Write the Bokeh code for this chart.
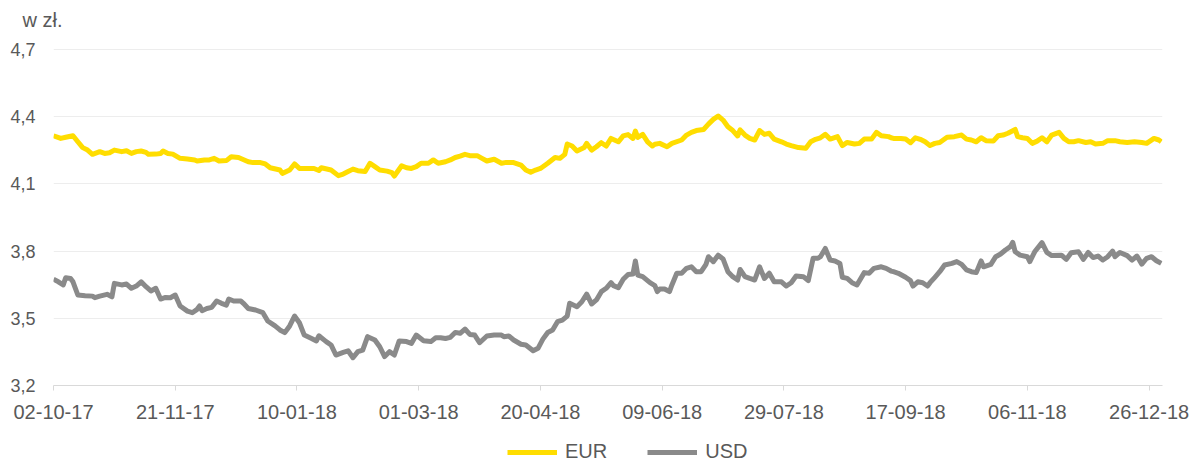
import pandas as pd
from bokeh.plotting import figure
from bokeh.layouts import column
from bokeh.models import (Range1d, FixedTicker, DatetimeTickFormatter, Legend,
                          LegendItem)
from bokeh.embed import file_html
from bokeh.resources import INLINE

START = "2017-10-02"
END = "2018-12-31 12:00"

eur_day = [0, 3, 5, 8, 10, 12, 14, 16, 19, 21, 23, 25, 28, 30, 32, 34, 36, 38, 39, 42, 44, 45, 47, 49,
           52, 55, 58, 59, 62, 64, 66, 68, 71, 73, 76, 80, 82, 85, 87, 89, 93, 94, 97, 99, 101, 104,
           107, 109, 110, 114,
           117, 119, 121, 123, 125, 128, 130, 132, 134, 137, 139, 140, 143, 145, 147, 149, 151, 154,
           156, 158, 161, 163, 165, 167, 169, 171, 174, 176, 178, 181, 184, 186, 189, 192, 194, 196,
           198, 200, 203, 206, 208, 210, 211, 213, 215, 218, 219, 221, 223, 225, 227, 229,
           232, 234, 236, 238, 239, 240, 242, 244, 246, 247, 249, 252, 254, 258, 260, 262, 264, 267,
           269, 271, 273, 275, 277, 279, 281, 282, 284, 286, 288, 290, 292, 294, 296, 299, 301, 303,
           306, 309, 311, 313, 315, 317, 319, 322, 324, 326, 329, 331, 333, 336, 338, 340, 343, 344,
           345, 348, 350, 352, 354, 356, 358, 360, 362, 364, 367, 370, 373, 375, 377, 379, 381, 383,
           386, 388, 390, 392, 395, 396, 398, 400, 402, 404, 406, 408, 410, 413, 415, 417, 419, 421,
           424, 426, 428, 431, 433, 436, 438, 441, 444, 447, 449, 452, 454, 455]
eur_val = [4.315, 4.303, 4.308, 4.315, 4.288, 4.262, 4.251, 4.232, 4.244, 4.236, 4.239, 4.251, 4.244,
           4.248, 4.236, 4.244, 4.247, 4.241, 4.232, 4.233, 4.236, 4.247, 4.236, 4.233,
           4.214, 4.211, 4.207, 4.202, 4.207, 4.207, 4.214, 4.202, 4.204, 4.221, 4.218, 4.199, 4.195,
           4.195, 4.189, 4.172, 4.162, 4.147, 4.162, 4.189, 4.169, 4.169, 4.169, 4.160, 4.172, 4.162,
           4.137, 4.144, 4.155, 4.166, 4.159, 4.155, 4.192, 4.177, 4.162, 4.157, 4.150, 4.135, 4.181,
           4.172, 4.169, 4.177, 4.192, 4.192, 4.207, 4.192, 4.199, 4.207, 4.218, 4.224, 4.232, 4.226,
           4.226, 4.214, 4.202, 4.210, 4.192, 4.196, 4.195, 4.184, 4.162, 4.152, 4.162, 4.169, 4.192,
           4.218, 4.214, 4.232, 4.278, 4.269, 4.247, 4.263, 4.281, 4.251, 4.266, 4.284, 4.269, 4.303,
           4.288, 4.314, 4.320, 4.303, 4.336, 4.308, 4.321, 4.288, 4.269, 4.277, 4.281, 4.266, 4.281,
           4.296, 4.318, 4.330, 4.338, 4.343, 4.367, 4.388, 4.403, 4.385, 4.355, 4.338, 4.314, 4.341,
           4.318, 4.303, 4.296, 4.338, 4.321, 4.326, 4.300, 4.288, 4.278, 4.271, 4.262, 4.259, 4.288,
           4.299, 4.306, 4.321, 4.300, 4.311, 4.271, 4.285, 4.278, 4.281, 4.300, 4.300, 4.330, 4.315,
           4.311, 4.306,
           4.303, 4.303, 4.300, 4.284, 4.306, 4.299, 4.288, 4.271, 4.281, 4.285, 4.308, 4.311, 4.318,
           4.300, 4.296, 4.288, 4.306, 4.293, 4.291, 4.315, 4.318, 4.326, 4.343, 4.311, 4.306, 4.303,
           4.281, 4.291, 4.306, 4.288, 4.318, 4.330, 4.303, 4.288, 4.288, 4.293, 4.285, 4.288, 4.278,
           4.281, 4.293, 4.293, 4.288, 4.285, 4.288, 4.285, 4.281, 4.303, 4.296, 4.288]

usd_day = [0, 2, 4, 5, 7, 8, 10, 13, 16, 17, 19, 22, 24, 25, 28, 30, 32, 34, 36, 38, 40, 42, 44, 46,
           48, 50, 52, 55, 57, 59, 60, 61, 63, 65, 67, 69, 71, 72, 74, 77, 78, 80, 83, 86, 88, 91, 93,
           95, 97, 99, 101, 103, 106, 108, 109, 110, 112,
           114, 116, 119, 121, 123, 125, 127, 129, 132, 134, 136, 138, 140, 142, 145, 147, 149, 152,
           155, 157, 159, 161, 163, 165, 167, 169, 171, 173, 175, 178, 181, 184, 185, 187, 189, 192,
           194, 197, 199, 201, 203, 205, 207, 209, 211, 212, 215, 217, 219, 221, 223, 225, 227, 229,
           230, 232, 234, 236, 238, 239, 240, 242, 245, 247, 248, 249, 251, 253, 254, 256, 258, 260,
           262, 264, 266, 268, 269, 271, 273, 275, 277, 279, 281, 282, 284, 286, 288, 290, 292, 294,
           296, 299, 301, 303, 305, 308, 310, 312, 314, 315, 317, 319, 321, 323, 324, 326, 328, 330,
           333, 335, 337, 340, 342, 344,
           345, 347, 350, 352, 353, 355, 357, 359, 360, 362, 364, 366, 369, 371, 373, 375, 377, 379,
           381, 382, 385, 387, 389, 391, 393, 394, 395, 397, 400, 401, 403, 406, 408, 410, 414, 416,
           418, 421, 423, 425, 427, 429, 431, 433, 435, 436, 438, 441, 443, 445, 447, 449, 451, 453, 455]
usd_val = [3.674, 3.663, 3.649, 3.681, 3.678, 3.663, 3.604, 3.601, 3.599, 3.592, 3.599, 3.607, 3.596,
           3.656, 3.649, 3.653, 3.634, 3.644, 3.663, 3.641, 3.622, 3.634, 3.586, 3.593, 3.592, 3.604,
           3.555, 3.532, 3.525, 3.540, 3.555, 3.534, 3.544, 3.549, 3.577, 3.567, 3.559, 3.586, 3.577,
           3.577, 3.567, 3.544, 3.537, 3.525, 3.488, 3.466, 3.448, 3.436, 3.466, 3.510, 3.480, 3.425,
           3.410, 3.399, 3.422, 3.413, 3.396,
           3.381, 3.336, 3.348, 3.355, 3.324, 3.351, 3.358, 3.418, 3.403, 3.373, 3.329, 3.351, 3.336,
           3.399, 3.396, 3.388, 3.425, 3.400, 3.396, 3.413, 3.413, 3.410, 3.415, 3.437, 3.433, 3.452,
           3.428, 3.425, 3.391, 3.421, 3.425, 3.425, 3.418, 3.421, 3.403, 3.384, 3.381, 3.355, 3.366,
           3.407, 3.437, 3.448, 3.485, 3.492, 3.510, 3.567, 3.552, 3.574, 3.608, 3.564, 3.582, 3.619,
           3.634, 3.659,
           3.646, 3.637, 3.674, 3.696, 3.698, 3.756, 3.693, 3.686, 3.659, 3.646, 3.619, 3.631, 3.631,
           3.619, 3.649, 3.701, 3.701, 3.723, 3.730, 3.708, 3.708, 3.741, 3.775, 3.753, 3.782, 3.765,
           3.708, 3.686, 3.671, 3.718, 3.686, 3.678, 3.671, 3.730, 3.678, 3.701, 3.663, 3.663, 3.644,
           3.659, 3.689, 3.686, 3.668, 3.768, 3.768, 3.775, 3.812, 3.760, 3.756, 3.745, 3.683, 3.678,
           3.659, 3.649, 3.704, 3.701, 3.723, 3.730, 3.723, 3.711,
           3.708, 3.701, 3.683, 3.668, 3.644, 3.663, 3.659, 3.644, 3.659, 3.683, 3.708, 3.738, 3.745,
           3.753, 3.741, 3.716, 3.708, 3.704, 3.756, 3.730, 3.741, 3.775, 3.787, 3.805, 3.820, 3.839,
           3.797, 3.782, 3.775, 3.753, 3.797, 3.838, 3.794, 3.780, 3.782, 3.763, 3.793, 3.797, 3.763,
           3.794, 3.771, 3.778, 3.760, 3.775, 3.800, 3.775, 3.794, 3.780, 3.760, 3.778, 3.742, 3.768,
           3.775, 3.757, 3.745]

series_names = ["EUR", "USD"]
x_tick_labels = ["02-10-17", "21-11-17", "10-01-18", "01-03-18", "20-04-18",
                 "09-06-18", "29-07-18", "17-09-18", "06-11-18", "26-12-18"]
y_ticks = [3.2, 3.5, 3.8, 4.1, 4.4, 4.7]
y_tick_labels = ["3,2", "3,5", "3,8", "4,1", "4,4", "4,7"]
unit_label = "w zł."

FONT = "Liberation Sans"
TEXT_COLOR = "#595959"
EUR_COLOR = "#FFDD00"
USD_COLOR = "#8A8A8A"
LINE_W = 5

# vertical layout: 224 px per unit; frame top 13 px above the 4.7 gridline
PX_PER_UNIT = 336 / (y_ticks[-1] - y_ticks[0])
TOP_PAD_PX = 13
Y_MAX = y_ticks[-1] + TOP_PAD_PX / PX_PER_UNIT

start = pd.Timestamp(START)
eur_x = start + pd.to_timedelta(eur_day, unit="D")
usd_x = start + pd.to_timedelta(usd_day, unit="D")
x_ticks_ms = [pd.Timestamp(pd.to_datetime(s, format="%d-%m-%y")).timestamp() * 1000
              for s in x_tick_labels]
x_range = Range1d(start, pd.Timestamp(END))

p = figure(frame_width=1109, frame_height=336 + TOP_PAD_PX, x_axis_type="datetime",
           x_range=x_range, y_range=Range1d(y_ticks[0], Y_MAX),
           output_backend="svg", toolbar_location=None,
           min_border_left=53, min_border_right=31, min_border_top=49 - TOP_PAD_PX,
           min_border_bottom=50)
p.outline_line_color = None
p.background_fill_color = "white"
p.border_fill_color = "white"

p.line(eur_x, eur_val, line_color=EUR_COLOR, line_width=LINE_W, line_join="round")
p.line(usd_x, usd_val, line_color=USD_COLOR, line_width=LINE_W, line_join="round")

# grid
p.xgrid.grid_line_color = None
p.ygrid.grid_line_color = "#ededed"
p.ygrid.grid_line_width = 1

# y axis
p.yaxis.ticker = FixedTicker(ticks=y_ticks)
p.yaxis.major_label_overrides = dict(zip(y_ticks, y_tick_labels))
p.yaxis.axis_line_color = None
p.yaxis.major_tick_line_color = None
p.yaxis.minor_tick_line_color = None
p.yaxis.major_tick_out = 0
p.yaxis.major_tick_in = 0
p.yaxis.major_label_standoff = 18
p.yaxis.major_label_text_font = FONT
p.yaxis.major_label_text_font_size = "18px"
p.yaxis.major_label_text_color = TEXT_COLOR

# x axis
fmt = "%d-%m-%y"
p.xaxis.ticker = FixedTicker(ticks=x_ticks_ms)
p.xaxis.formatter = DatetimeTickFormatter(
    microseconds=fmt, milliseconds=fmt, seconds=fmt, minsec=fmt, minutes=fmt,
    hourmin=fmt, hours=fmt, days=fmt, months=fmt, years=fmt)
p.xaxis.axis_line_color = "#d9d9d9"
p.xaxis.axis_line_width = 1
p.xaxis.major_tick_line_color = "#d9d9d9"
p.xaxis.major_tick_out = 5
p.xaxis.major_tick_in = 0
p.xaxis.minor_tick_line_color = None
p.xaxis.major_label_standoff = 14
p.xaxis.major_label_text_font = FONT
p.xaxis.major_label_text_font_size = "20px"
p.xaxis.major_label_text_color = TEXT_COLOR

# unit label as title
p.title.text = unit_label
p.title.align = "left"
p.title.offset = -31
p.title.standoff = 12
p.title.text_font = FONT
p.title.text_font_size = "20px"
p.title.text_font_style = "normal"
p.title.text_color = TEXT_COLOR

# legend strip below the chart (its frame is aligned with the chart's frame)
leg = figure(width=1193, height=28, output_backend="svg", toolbar_location=None,
             x_axis_location=None, y_axis_location=None,
             x_range=Range1d(0, 1), y_range=Range1d(0, 1),
             min_border_left=0, min_border_right=0, min_border_top=0, min_border_bottom=0)
leg.outline_line_color = None
leg.xgrid.visible = False
leg.ygrid.visible = False
# same series drawn in the legend strip, outside its visible range, to supply legend glyphs
k_eur = leg.line(eur_x, eur_val, line_color=EUR_COLOR, line_width=LINE_W)
k_usd = leg.line(usd_x, usd_val, line_color=USD_COLOR, line_width=LINE_W)
legend = Legend(items=[LegendItem(label=series_names[0], renderers=[k_eur]),
                       LegendItem(label=series_names[1], renderers=[k_usd])],
                orientation="horizontal", location=(454, 0),
                border_line_color=None, background_fill_alpha=0,
                padding=0, margin=0, spacing=40, glyph_width=50, glyph_height=20,
                label_standoff=8, label_text_font=FONT, label_text_font_size="20px",
                label_text_color=TEXT_COLOR)
leg.add_layout(legend)

layout = column(p, leg, spacing=0)
open("out.html", "w").write(file_html(layout, INLINE))
